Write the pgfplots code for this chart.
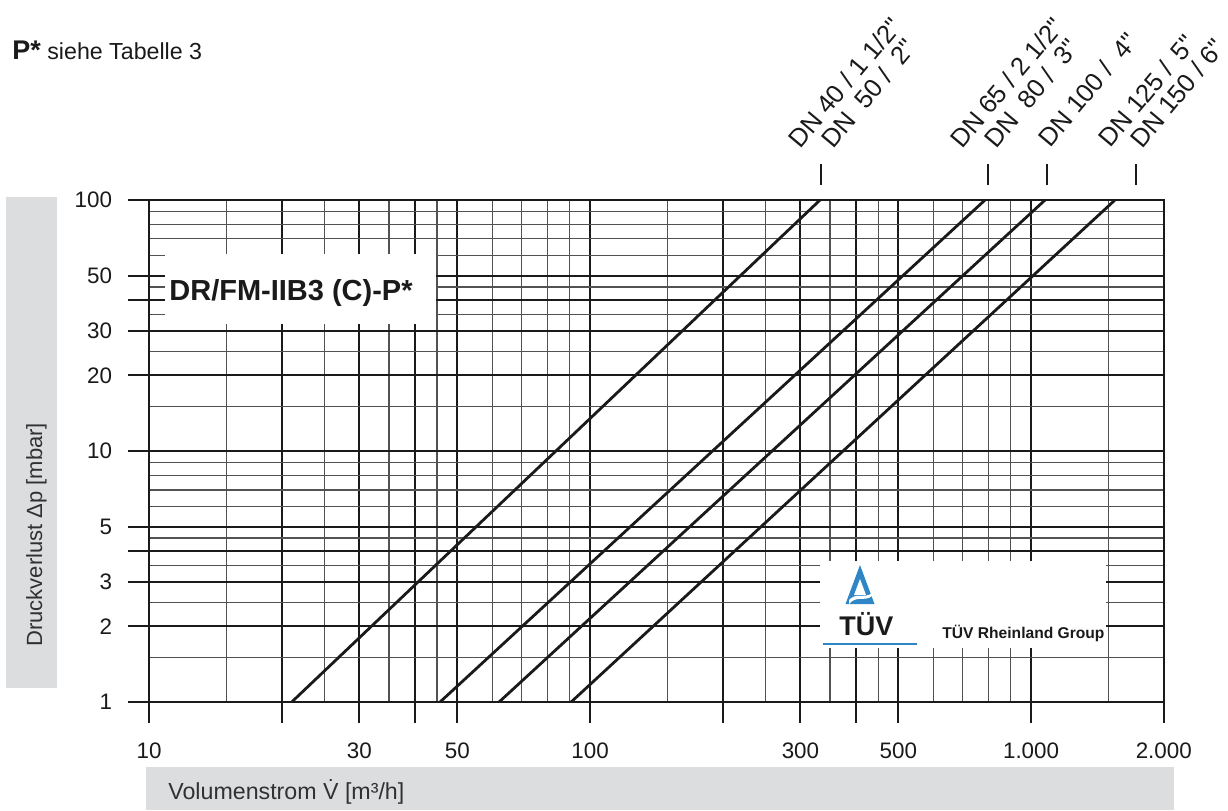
\documentclass[border=0pt]{standalone}
\usepackage{pgfplots}
\pgfplotsset{compat=1.18}
\usepackage{fontspec}
\setmainfont{Liberation Sans}
\definecolor{boxgray}{HTML}{DCDDDF}
\definecolor{tuvblue}{HTML}{2F86C6}
\definecolor{ink}{HTML}{1A1A1A}
\newcommand\q{\textquotedbl}
\begin{document}
\begin{tikzpicture}
\begin{axis}[
  at={(74.5pt,-351pt)}, anchor=south west,
  scale only axis, width=507.4pt, height=251pt,
  xmode=log, ymode=log,
  xmin=10, xmax=2000, ymin=1, ymax=100,
  xtick={10,20,30,40,50,100,200,300,400,500,1000,2000},
  xticklabels={10,,30,,50,100,,300,,500,1.000,2.000},
  ytick={1,2,3,4,5,10,20,30,40,50,100},
  yticklabels={1,2,3,,5,10,20,30,,50,100},
  minor xtick={15,25,35,45,60,70,80,90,150,250,350,450,600,700,800,900,1500},
  minor ytick={1.5,2.5,3.5,4.5,6,7,8,9,15,25,35,45,60,70,80,90},
  grid=both,
  major grid style={line width=1pt, ink},
  minor grid style={line width=0.6pt, black!68},
  axis line style={line width=1pt, ink},
  tick align=outside, tick pos=left,
  major tick length=10.5pt, minor tick length=0pt,
  every tick/.style={line width=1pt, ink},
  tick label style={font=\fontsize{11.2}{13}\selectfont, text=ink},
  yticklabel style={xshift=-4.5pt},
  xticklabel style={yshift=-6.5pt},
]
\addplot[line width=1.4pt, ink] coordinates {(21.07,1) (332.3,100)};
\addplot[line width=1.4pt, ink] coordinates {(45.7,1) (786.5,100)};
\addplot[line width=1.4pt, ink] coordinates {(62.2,1) (1076,100)};
\addplot[line width=1.4pt, ink] coordinates {(90.6,1) (1550,100)};
\end{axis}
\begin{scope}[x=0.5pt,y=-0.5pt]
% model box
\fill[white] (165,254) rectangle (436,324);
\node[anchor=base west, inner sep=0, text=ink, font=\bfseries\fontsize{14.5}{16}\selectfont] at (169,300) {DR/FM-IIB3 (C)-P*};
% TUV box
\fill[white] (820,561) rectangle (1106,648);
\fill[tuvblue] (860,565) -- (845.5,604) -- (874.5,604) -- cycle;
\fill[white] (860,579) -- (854,595) -- (866,595) -- cycle;
\fill[white] (849,600) .. controls (856,592) and (865,599) .. (872,593) -- (872,596) .. controls (865,602) and (856,595) .. (849,604) -- cycle;
\node[anchor=base west, inner sep=0, text=ink, font=\bfseries\fontsize{13.5}{15}\selectfont] at (839,635) {TÜV};
\draw[tuvblue, line width=0.7pt] (823,644) -- (917,644);
\node[anchor=base west, inner sep=0, text=ink, font=\bfseries\fontsize{7.8}{9}\selectfont] at (942,638) {TÜV Rheinland Group};
% axis label boxes
\fill[boxgray] (6,197) rectangle (57,688);
\node[rotate=90, anchor=base west, inner sep=0, text=ink!90, font=\fontsize{11}{13}\selectfont] at (42,647) {Druckverlust Δp [mbar]};
\fill[boxgray] (146,767) rectangle (1174,810);
\node[anchor=base west, inner sep=0, text=ink!90, font=\fontsize{11.6}{13}\selectfont] at (168,799) {Volumenstrom \.{V} [m³/h]};
% note
\node[anchor=base west, inner sep=0, text=ink] at (12,59) {{\fontsize{13.5}{15}\selectfont\bfseries P*}{\fontsize{11.6}{14}\selectfont\ siehe Tabelle 3}};
% markers
\foreach \xx in {821,988,1047,1136} \draw[line width=0.8pt, ink] (\xx,164) -- (\xx,185);
% DN labels
\tikzset{dn/.style={rotate=50, anchor=base west, inner sep=0, text=ink, font=\fontsize{12.8}{14}\selectfont}}
\node[dn] at (800,150) {DN 40 / 1 1/2\q};
\node[dn] at (833,150) {DN~~50 /~~2\q};
\node[dn] at (962,150) {DN 65 / 2 1/2\q};
\node[dn] at (996,150) {DN~~80 /~~3\q};
\node[dn] at (1050,149) {DN 100 /~~4\q};
\node[dn] at (1110,149) {DN 125 /\,~5\q};
\node[dn] at (1142,150) {DN 150 / 6\q};
\pgfresetboundingbox
\path (0,0) rectangle (1228,810);
\end{scope}
\end{tikzpicture}
\end{document}
